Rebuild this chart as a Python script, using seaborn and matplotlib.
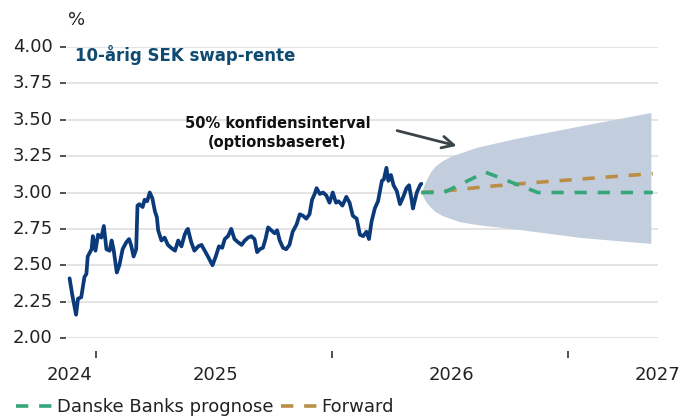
import matplotlib
matplotlib.use("Agg")
import matplotlib.pyplot as plt
from matplotlib.ticker import NullFormatter
import numpy as np
import pandas as pd
import seaborn as sns

# history: day offset from first observation, 10y SEK swap rate in %
START = pd.Timestamp("2024-05-21")
hist_days = [0, 4, 10, 13, 18, 23, 26, 28, 34, 36, 40, 44, 49, 53, 57, 62, 65, 68,
             73, 77, 82, 88, 92, 95, 99, 103, 105, 108, 113, 116, 120, 124, 128,
             132, 135, 137, 142, 147, 152, 157, 163, 168, 173, 178, 181, 183, 188,
             193, 199, 204, 209, 214, 221, 226, 231, 236, 240, 245, 250, 255, 260,
             266, 271, 276, 281, 286, 290, 294, 299, 303, 307, 312, 317, 321, 325,
             330, 335, 340, 345, 351, 356, 361, 366, 371, 375, 379, 382, 387, 392,
             397, 402, 407, 412, 416, 422, 428, 433, 438, 444, 449, 454, 459, 463,
             467, 472, 477, 483, 486, 490, 493, 497, 501, 506, 511, 516, 521, 525,
             529, 531, 537, 542, 544]
hist_values = [2.41, 2.30, 2.16, 2.27, 2.28, 2.42, 2.44, 2.56, 2.61, 2.70, 2.60,
               2.71, 2.69, 2.77, 2.61, 2.60, 2.67, 2.61, 2.45, 2.50, 2.61, 2.66,
               2.68, 2.64, 2.56, 2.61, 2.91, 2.92, 2.90, 2.95, 2.94, 3.00, 2.96,
               2.87, 2.83, 2.74, 2.67, 2.69, 2.64, 2.62, 2.60, 2.67, 2.63, 2.71,
               2.74, 2.75, 2.66, 2.60, 2.63, 2.64, 2.60, 2.56, 2.50, 2.56, 2.63,
               2.62, 2.68, 2.70, 2.75, 2.68, 2.66, 2.64, 2.67, 2.69, 2.70, 2.68,
               2.59, 2.61, 2.62, 2.68, 2.76, 2.74, 2.72, 2.74, 2.67, 2.62, 2.61,
               2.64, 2.73, 2.78, 2.85, 2.84, 2.82, 2.85, 2.95, 2.99, 3.03, 2.99,
               3.00, 2.98, 2.93, 3.00, 2.93, 2.94, 2.91, 2.97, 2.93, 2.84, 2.82,
               2.71, 2.70, 2.73, 2.68, 2.80, 2.89, 2.94, 3.08, 3.09, 3.17, 3.08,
               3.12, 3.05, 3.01, 2.92, 2.97, 3.03, 3.05, 2.95, 2.89, 3.00, 3.05,
               3.06]

# forecasts: day offset from last observation
fc_days = [0, 35, 99, 180, 358]
danske_fc = [3.00, 3.00, 3.14, 3.00, 3.00]
forward = [3.00, 3.01, 3.04, 3.07, 3.13]

# 50% confidence band (options based)
band_days = [0, 4, 8, 14, 21, 33, 46, 59, 85, 144, 248, 355]
band_upper = [3.00, 3.05, 3.09, 3.14, 3.18, 3.22, 3.25, 3.27, 3.31, 3.37, 3.46, 3.55]
band_lower = [3.00, 2.96, 2.93, 2.90, 2.87, 2.84, 2.82, 2.80, 2.78, 2.75, 2.69, 2.65]

years = [2024, 2025, 2026, 2027]
y_ticks = [2.00, 2.25, 2.50, 2.75, 3.00, 3.25, 3.50, 3.75, 4.00]

NAVY = "#0b3a7b"
GREEN = "#36a67b"
TAN = "#b98f48"
BAND = "#c2cedd"
TITLE = "#0f4a70"
GRID = "#e2e2e2"
TEXT = "#222222"
DASH = (0, (3.4, 3.0))

sns.set_theme(style="ticks")
plt.rcParams["font.family"] = ["DejaVu Sans"]

hist = pd.DataFrame({"date": START + pd.to_timedelta(hist_days, unit="D"),
                     "value": hist_values})
fc_start = hist["date"].iloc[-1]
fc = pd.DataFrame({"date": fc_start + pd.to_timedelta(fc_days, unit="D"),
                   "danske": danske_fc, "forward": forward})
band_dates = fc_start + pd.to_timedelta(band_days, unit="D")

fig = plt.figure(figsize=(6.92, 4.18), dpi=100)
ax = fig.add_axes([67 / 692, 1 - 338 / 418, 591 / 692, 291 / 418])

ax.fill_between(band_dates, band_lower, band_upper, color=BAND, lw=0, zorder=1)
sns.lineplot(data=hist, x="date", y="value", color=NAVY, lw=2.7, ax=ax, zorder=3)
sns.lineplot(data=fc, x="date", y="danske", color=GREEN, lw=2.6, ax=ax, zorder=3,
             linestyle=DASH, label="Danske Banks prognose")
sns.lineplot(data=fc, x="date", y="forward", color=TAN, lw=2.6, ax=ax, zorder=2,
             linestyle=DASH, label="Forward")

x_left = START - pd.Timedelta(days=4)
x_right = fc["date"].iloc[-1] + pd.Timedelta(days=8)
ax.set_xlim(x_left, x_right)
ax.set_ylim(2.0, 4.0)
ax.set_xlabel("")
ax.set_ylabel("")

for s in ax.spines.values():
    s.set_visible(False)
ax.spines["bottom"].set_position(("outward", 9))

# grid on the y ticks; the tick texts and marks are drawn against the y scale below
ax.set_yticks(y_ticks)
ax.yaxis.set_major_formatter(NullFormatter())
ax.tick_params(axis="y", length=0)
ax.yaxis.grid(True, color=GRID, lw=1.3)
ax.xaxis.grid(False)
ax.axhline(2.0, color=GRID, lw=2.2, zorder=0)

ytrans = ax.get_yaxis_transform()
for v in y_ticks:
    ax.text(-0.024, v, f"{v:.2f}", transform=ytrans, ha="right", va="center",
            fontsize=13, color=TEXT)
    ax.plot([-0.0118, -0.0017], [v, v], transform=ytrans, color="#333333", lw=1.2,
            clip_on=False, solid_capstyle="butt")

# year ticks mid-year, labels at year start (clipped to the range)
tick_dates = [pd.Timestamp(f"{y}-07-01") for y in years[:-1]]
label_dates = [min(max(pd.Timestamp(f"{y}-01-01"), START), x_right) for y in years]
ax.set_xticks(tick_dates)
ax.set_xticklabels([""] * len(tick_dates))
ax.set_xticks(label_dates, minor=True)
ax.set_xticklabels([str(y) for y in years], minor=True)
ax.tick_params(axis="x", which="major", bottom=True, direction="out", length=5,
               width=1.2, color="#333333")
ax.tick_params(axis="x", which="minor", bottom=True, length=0, pad=11, labelsize=13,
               labelcolor=TEXT)
ax.set_xlim(x_left, x_right)
ax.set_ylim(2.0, 4.0)

ax.text(0.014, 0.972, "10-årig SEK swap-rente", transform=ax.transAxes,
        fontsize=12, fontweight="bold", color=TITLE, ha="left", va="center")
ax.text(0.356, 0.705, "50% konfidensinterval\n(optionsbaseret)", transform=ax.transAxes,
        fontsize=10.5, fontweight="bold", color="#111111", ha="center", va="center",
        linespacing=1.35)
ax.annotate("", xy=(0.664, 0.658), xytext=(0.554, 0.715), xycoords="axes fraction",
            arrowprops=dict(arrowstyle="->,head_length=0.7,head_width=0.35",
                            color="#3a4449", lw=2))
fig.text(68 / 692, 1 - 20 / 418, "%", fontsize=13, color=TEXT, ha="left", va="center")

ax.get_legend().remove()
handles, labels = ax.get_legend_handles_labels()
handles, labels = handles[:2], labels[:2]
fig.legend(handles, labels, loc="lower left", bbox_to_anchor=(0.0, -0.035), ncol=2,
           frameon=False, fontsize=13, handlelength=2.0, handletextpad=0.25,
           columnspacing=0.4, labelcolor=TEXT)

fig.savefig("out.png", dpi=100)
